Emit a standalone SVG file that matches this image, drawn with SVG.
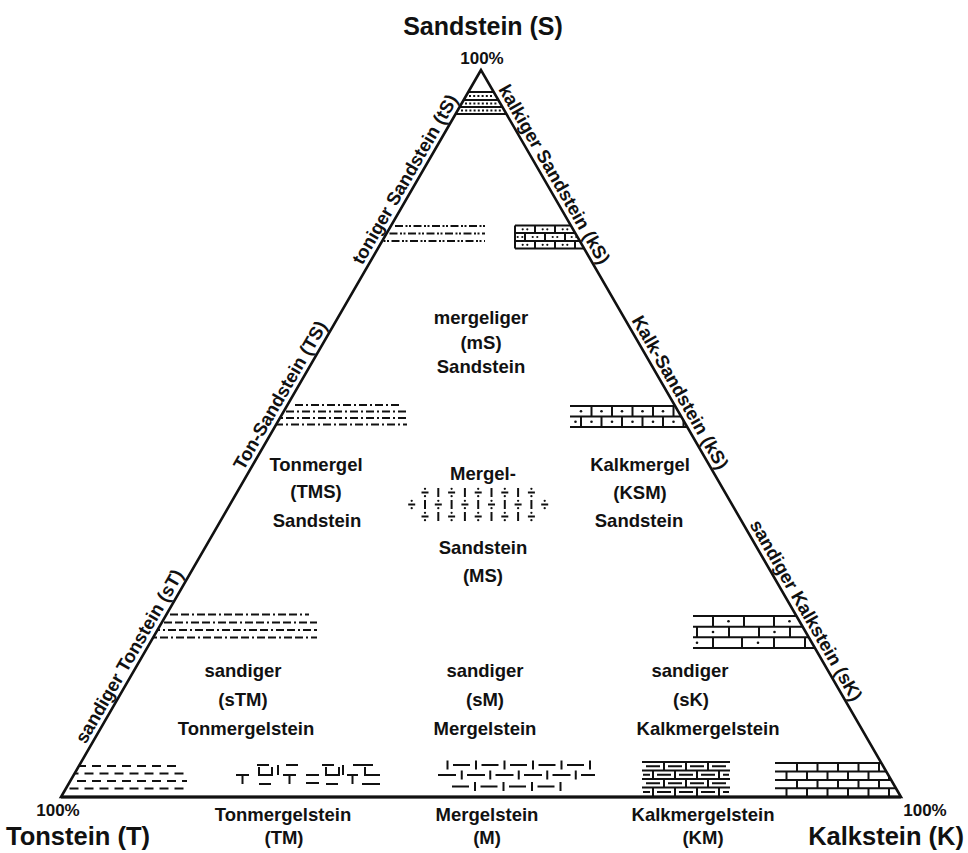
<svg xmlns="http://www.w3.org/2000/svg" width="968" height="853" viewBox="0 0 968 853">
<style>
.t{font-family:"Liberation Sans",Arial,Helvetica,sans-serif;font-weight:bold;fill:#111;text-anchor:middle}
.big{font-size:25px}
.pc{font-size:17px}
.lab{font-size:18.5px}
.p{stroke:#111;stroke-width:2;fill:none}
.d{fill:#111;stroke:none}
.edge{stroke:#111;stroke-width:2.6;fill:none;stroke-linejoin:miter}
</style>
<defs>
<clipPath id="tri"><polygon points="481,70 61,797 901,797"/></clipPath>
<g id="dv"><path d="M-3.5 0h7" stroke="#111" stroke-width="2" fill="none"/><circle cy="-3.7" r="1.15" fill="#111"/><circle cy="3.7" r="1.15" fill="#111"/></g>
<path id="br" d="M0 -4.5v9" stroke="#111" stroke-width="2" fill="none"/>
<g id="dd"><circle cx="-2.3" r="1.1" fill="#111"/><circle cx="2.3" r="1.1" fill="#111"/></g>
</defs>
<rect width="968" height="853" fill="#fff"/>

<g id="corner-S">
<text class="t big" x="483" y="35">Sandstein (S)</text>
<text class="t pc" x="482" y="64">100%</text>
</g>
<g id="corner-T">
<text class="t pc" x="58" y="816">100%</text>
<text class="t" style="font-size:25.5px;text-anchor:start" x="6" y="845">Tonstein (T)</text>
</g>
<g id="corner-K">
<text class="t pc" x="925" y="816">100%</text>
<text class="t" style="font-size:25.5px;text-anchor:end" x="964" y="845">Kalkstein (K)</text>
</g>

<!-- patterns -->
<g id="pattern-S" clip-path="url(#tri)">
<path class="p" d="M440 92H520M440 100H520M440 107H520M440 114H520"/>
<path class="p" stroke-dasharray="2 2.2" d="M469 96H494M465 103.5H498M461 110.5H502"/>
</g>
<g id="pattern-tS" clip-path="url(#tri)">
<path class="p" stroke-dasharray="8 2.5 2 1.5 2 2.5" d="M395 226H485"/>
<path class="p" stroke-dasharray="8 2.5 2 1.5 2 2.5" stroke-dashoffset="9" d="M380 233.5H485"/>
<path class="p" stroke-dasharray="8 2.5 2 1.5 2 2.5" stroke-dashoffset="3" d="M376 241H485"/>
</g>
<g id="pattern-kS" clip-path="url(#tri)">
<path class="p" d="M515 225.5H600M515 233H600M515 241H600M515 248.5H600M515 225.5V248.5M535 225.5V233M555 225.5V233M575 225.5V233M525 233V241M545 233V241M565 233V241M585 233V241M535 241V248.5M555 241V248.5M575 241V248.5"/>
<use href="#dd" x="525" y="229.3"/><use href="#dd" x="545" y="229.3"/><use href="#dd" x="565" y="229.3"/>
<use href="#dd" x="520" y="237"/><use href="#dd" x="535" y="237"/><use href="#dd" x="555" y="237"/><use href="#dd" x="574" y="237"/>
<use href="#dd" x="525" y="244.8"/><use href="#dd" x="545" y="244.8"/><use href="#dd" x="565" y="244.8"/>
</g>
<g id="pattern-TS" clip-path="url(#tri)">
<path class="p" stroke-dasharray="8 3 2 3" d="M295 405H402"/>
<path class="p" stroke-dasharray="8 3 2 3" stroke-dashoffset="6" d="M276 411.5H407"/>
<path class="p" stroke-dasharray="8 3 2 3" stroke-dashoffset="2" d="M272 418H407"/>
<path class="p" stroke-dasharray="8 3 2 3" stroke-dashoffset="9" d="M268 424.5H407"/>
</g>
<g id="pattern-KS" clip-path="url(#tri)">
<path class="p" d="M570 406H700M570 416.5H700M570 427H700M591.5 406v10.5M612 406v10.5M632.5 406v10.5M653 406v10.5M673.5 406v10.5M581 416.5v10.5M601.5 416.5v10.5M622 416.5v10.5M642.5 416.5v10.5M663 416.5v10.5M683.5 416.5v10.5"/>
<circle class="d" cx="581" cy="411.3" r="1.3"/><circle class="d" cx="601.5" cy="411.3" r="1.3"/><circle class="d" cx="622" cy="411.3" r="1.3"/><circle class="d" cx="642.5" cy="411.3" r="1.3"/><circle class="d" cx="663" cy="411.3" r="1.3"/>
<circle class="d" cx="575.5" cy="421.8" r="1.3"/><circle class="d" cx="591.5" cy="421.8" r="1.3"/><circle class="d" cx="612" cy="421.8" r="1.3"/><circle class="d" cx="632.5" cy="421.8" r="1.3"/><circle class="d" cx="653" cy="421.8" r="1.3"/><circle class="d" cx="673.5" cy="421.8" r="1.3"/>
</g>
<g id="pattern-MS">
<use href="#dv" x="425" y="492.5"/><use href="#dv" x="451.6" y="492.5"/><use href="#dv" x="478.2" y="492.5"/><use href="#dv" x="504.8" y="492.5"/><use href="#dv" x="531.4" y="492.5"/>
<use href="#br" x="438.3" y="492.5"/><use href="#br" x="464.9" y="492.5"/><use href="#br" x="491.5" y="492.5"/><use href="#br" x="518.1" y="492.5"/>
<use href="#dv" x="411.7" y="504.5"/><use href="#dv" x="438.3" y="504.5"/><use href="#dv" x="464.9" y="504.5"/><use href="#dv" x="491.5" y="504.5"/><use href="#dv" x="518.1" y="504.5"/><use href="#dv" x="544.7" y="504.5"/>
<use href="#br" x="425" y="504.5"/><use href="#br" x="451.6" y="504.5"/><use href="#br" x="478.2" y="504.5"/><use href="#br" x="504.8" y="504.5"/><use href="#br" x="531.4" y="504.5"/>
<use href="#dv" x="425" y="516.5"/><use href="#dv" x="451.6" y="516.5"/><use href="#dv" x="478.2" y="516.5"/><use href="#dv" x="504.8" y="516.5"/><use href="#dv" x="531.4" y="516.5"/>
<use href="#br" x="438.3" y="516.5"/><use href="#br" x="464.9" y="516.5"/><use href="#br" x="491.5" y="516.5"/><use href="#br" x="518.1" y="516.5"/>
</g>
<g id="pattern-sT" clip-path="url(#tri)">
<path class="p" stroke-dasharray="8 3 8 3 2 3" d="M170 614.5H309"/>
<path class="p" stroke-dasharray="8 3 8 3 2 3" stroke-dashoffset="13" d="M150 622.5H317"/>
<path class="p" stroke-dasharray="8 3 8 3 2 3" stroke-dashoffset="5" d="M146 630H317"/>
<path class="p" stroke-dasharray="8 3 8 3 2 3" stroke-dashoffset="18" d="M140 637.5H317"/>
</g>
<g id="pattern-sK" clip-path="url(#tri)">
<path class="p" d="M693 616H830M693 626.7H830M693 637.3H830M693 648H830M713 616v10.7M744 616v10.7M774 616v10.7M805 616v10.7M697 626.7v10.6M729 626.7v10.6M759 626.7v10.6M790 626.7v10.6M713 637.3v10.7M742 637.3v10.7M774 637.3v10.7M805 637.3v10.7"/>
<circle class="d" cx="728.5" cy="621.3" r="1.3"/><circle class="d" cx="789.5" cy="621.3" r="1.3"/>
<circle class="d" cx="713" cy="632" r="1.3"/><circle class="d" cx="774.5" cy="632" r="1.3"/>
<circle class="d" cx="697" cy="642.7" r="1.3"/><circle class="d" cx="758" cy="642.7" r="1.3"/>
</g>
<g id="pattern-T" clip-path="url(#tri)">
<path class="p" stroke-dasharray="9 6" d="M62 766H177"/>
<path class="p" stroke-dasharray="9 6" stroke-dashoffset="7.5" d="M62 773.5H187"/>
<path class="p" stroke-dasharray="9 6" d="M62 781H187"/>
<path class="p" stroke-dasharray="9 6" stroke-dashoffset="7.5" d="M62 788.5H187"/>
</g>
<g id="pattern-TM">
<path class="p" d="M257 765h12M286 765h12M322 765h12M353 765h20M278 765v10M343 765v10M236 775h13M242.5 775v9M259 767v8h13v-8M283 775h13M289.5 775v9M306 775h13M306 783h13M326 767v8h13v-8M347 775h11M352.5 775v9M365 767v8h15M259 784h12M326 784h12M362 784h18"/>
</g>
<g id="pattern-M">
<path class="p" d="M447.5 760.5v9M476 760.5v9M504.5 760.5v9M533 760.5v9M561.5 760.5v9M590 760.5v9M453 765h17M481.5 765h17M510 765h17M538.5 765h17M567 765h17M461.75 770.5v9M490.25 770.5v9M518.75 770.5v9M547.25 770.5v9M575.75 770.5v9M438 775h18M467 775h18M495.5 775h18M524 775h18M552.5 775h18M581 775h14M475 782v9M503.5 782v9M532 782v9M560.5 782v9M452 786.5h17M480.5 786.5h17M509 786.5h17M537.5 786.5h17"/>
</g>
<g id="pattern-KM">
<path class="p" d="M642 762H730M642 770.5H730M642 779H730M642 787.5H730M664 762v8.5M686 762v8.5M708 762v8.5M653 770.5v8.5M675 770.5v8.5M697 770.5v8.5M719 770.5v8.5M664 779v8.5M686 779v8.5M708 779v8.5M653 787.5v9M675 787.5v9M697 787.5v9M719 787.5v9"/>
<path class="p" stroke-width="1.8" d="M646 766.3h14M668 766.3h14M690 766.3h14M712 766.3h14M643 774.8h7M657 774.8h14M679 774.8h14M701 774.8h14M723 774.8h6M646 783.3h14M668 783.3h14M690 783.3h14M712 783.3h14M643 792h7M657 792h14M679 792h14M701 792h14M723 792h6"/>
</g>
<g id="pattern-K" clip-path="url(#tri)">
<path class="p" d="M775 763H910M775 771.5H910M775 780H910M775 788.3H910M797 763v8.5M817.5 763v8.5M838 763v8.5M858.5 763v8.5M879 763v8.5M786.5 771.5v8.5M807 771.5v8.5M827.5 771.5v8.5M848 771.5v8.5M868.5 771.5v8.5M889 771.5v8.5M797 780v8.3M817.5 780v8.3M838 780v8.3M858.5 780v8.3M879 780v8.3M899.5 780v8.3M786.5 788.3v8.7M807 788.3v8.7M827.5 788.3v8.7M848 788.3v8.7M868.5 788.3v8.7M889 788.3v8.7"/>
</g>

<g id="connectors">
<polygon class="edge" points="481,70 61,797 901,797"/>
<path d="M61 797H901" stroke="#111" stroke-width="3.2"/>
</g>

<!-- side labels -->
<g id="side-tS"><text class="t lab" transform="translate(410.3 182.5) rotate(-60)">toniger Sandstein (tS)</text></g>
<g id="side-TS"><text class="t lab" transform="translate(285.5 398.5) rotate(-60)">Ton-Sandstein (TS)</text></g>
<g id="side-sT"><text class="t lab" transform="translate(134.7 659.5) rotate(-60)">sandiger Tonstein (sT)</text></g>
<g id="side-kS"><text class="t lab" transform="translate(548.9 177.5) rotate(60)">kalkiger Sandstein (kS)</text></g>
<g id="side-KS"><text class="t lab" transform="translate(674.8 395.5) rotate(60)">Kalk-Sandstein (kS)</text></g>
<g id="side-sK"><text class="t lab" transform="translate(800.7 613.5) rotate(60)">sandiger Kalkstein (sK)</text></g>

<!-- interior labels -->
<g id="field-mS"><text class="t lab" x="481" y="324">mergeliger</text><text class="t lab" x="481" y="349">(mS)</text><text class="t lab" x="481" y="373">Sandstein</text></g>
<g id="field-TMS"><text class="t lab" x="316" y="471">Tonmergel</text><text class="t lab" x="316" y="498">(TMS)</text><text class="t lab" x="317" y="527">Sandstein</text></g>
<g id="field-MS"><text class="t lab" x="483" y="480">Mergel-</text><text class="t lab" x="483" y="554">Sandstein</text><text class="t lab" x="483" y="582">(MS)</text></g>
<g id="field-KSM"><text class="t lab" x="640" y="471">Kalkmergel</text><text class="t lab" x="640" y="499">(KSM)</text><text class="t lab" x="639" y="527">Sandstein</text></g>
<g id="field-sTM"><text class="t lab" x="243" y="677">sandiger</text><text class="t lab" x="243" y="706">(sTM)</text><text class="t lab" x="246" y="735">Tonmergelstein</text></g>
<g id="field-sM"><text class="t lab" x="485" y="677">sandiger</text><text class="t lab" x="485" y="706">(sM)</text><text class="t lab" x="485" y="735">Mergelstein</text></g>
<g id="field-sK"><text class="t lab" x="690" y="677">sandiger</text><text class="t lab" x="691" y="706">(sK)</text><text class="t lab" x="708" y="735">Kalkmergelstein</text></g>

<!-- base labels -->
<g id="base-TM"><text class="t lab" x="283" y="821">Tonmergelstein</text><text class="t lab" x="284" y="844">(TM)</text></g>
<g id="base-M"><text class="t lab" x="487" y="821">Mergelstein</text><text class="t lab" x="487" y="844">(M)</text></g>
<g id="base-KM"><text class="t lab" x="703" y="821">Kalkmergelstein</text><text class="t lab" x="703" y="844">(KM)</text></g>
</svg>
